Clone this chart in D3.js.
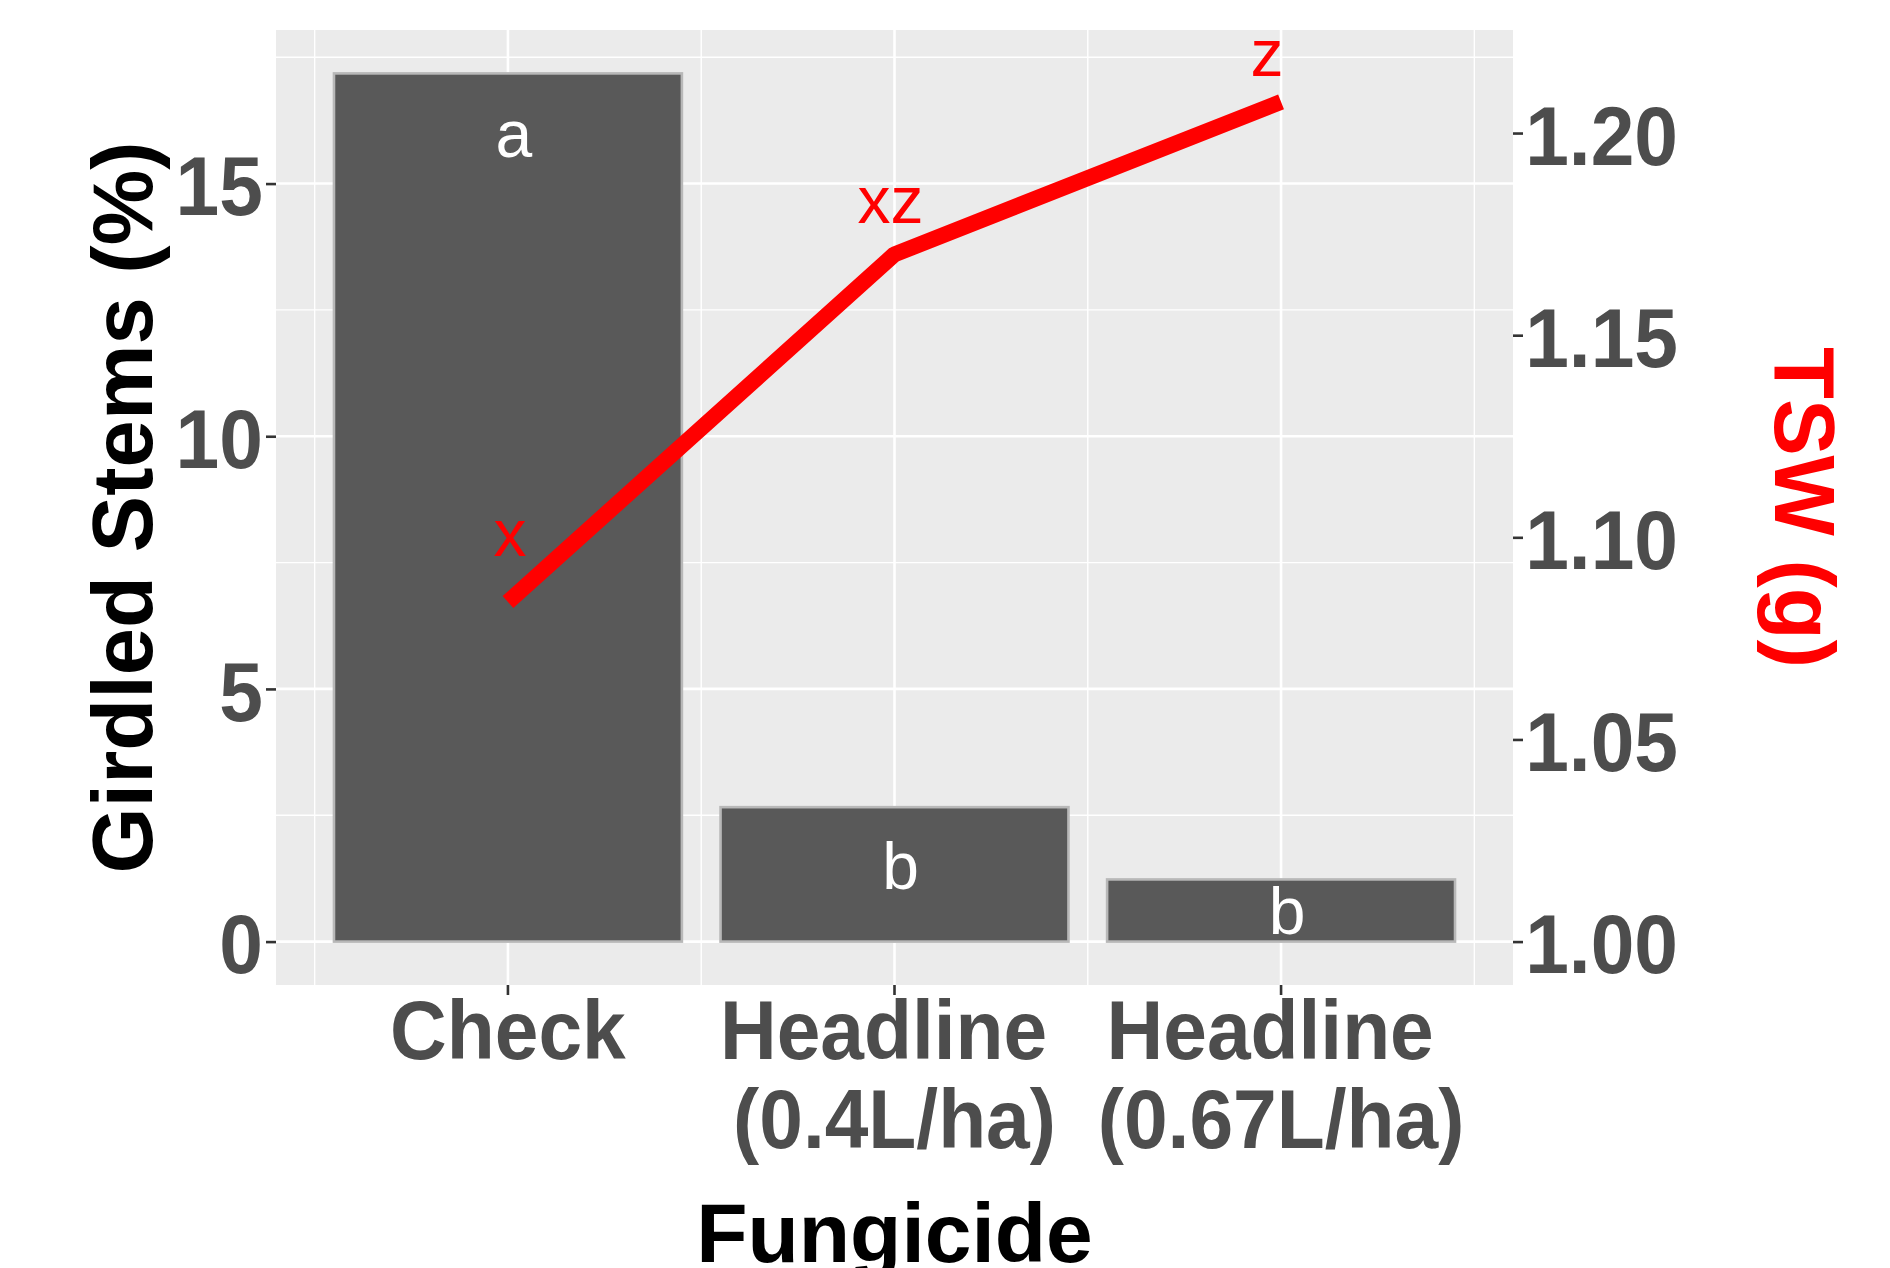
<!DOCTYPE html>
<html lang="en">
<head>
    <meta charset="UTF-8">
    <title>Girdled Stems and TSW by Fungicide</title>
    <script src="https://d3js.org/d3.v7.min.js"></script>
    <style>
        body {
            margin: 0;
            background: #ffffff;
            font-family: 'Liberation Sans', Arial, sans-serif;
        }
        svg text {
            font-family: 'Liberation Sans', Arial, sans-serif;
        }
    </style>
</head>
<body>
    <div id="chart"></div>

    <script>
        // data
        const categories = [["Check"], ["Headline\u00A0", "(0.4L/ha)"], ["Headline\u00A0", "(0.67L/ha)"]];
        const girdled = [17.18, 2.66, 1.23];          // Girdled Stems (%)
        const tsw = [1.084, 1.170, 1.2077];           // TSW (g)
        const barLetters = ["a", "b", "b"];
        const barLetterY = [15.53, 1.05, 0.15];       // in % units
        const tswLetters = ["x", "xz", "z"];
        const tswLetterY = [1.0955, 1.1777, 1.2140];  // in g units
        const leftTicks = [0, 5, 10, 15];
        const rightTicks = [1.00, 1.05, 1.10, 1.15, 1.20];
        const tswFactor = 80; // sec axis: % = (TSW - 1) * 80

        const width = 1890, height = 1268;
        const panel = {left: 276, right: 1513, top: 30, bottom: 985};

        const svg = d3.select("#chart")
            .append("svg")
            .attr("width", width)
            .attr("height", height);

        const idx = d3.range(categories.length);

        const x = d3.scaleBand()
            .domain(idx)
            .range([panel.left, panel.right])
            .paddingInner(0.1)
            .paddingOuter(0.15);
        const xc = i => x(i) + x.bandwidth() / 2;
        const step = x.step();

        const maxVal = d3.max(girdled);
        const pad = maxVal * 0.05;
        const yL = d3.scaleLinear()
            .domain([-pad, maxVal + pad])
            .range([panel.bottom, panel.top]);
        const yR = d3.scaleLinear()
            .domain(yL.domain().map(v => 1 + v / tswFactor))
            .range(yL.range());

        // panel background
        svg.append("rect")
            .attr("x", panel.left).attr("y", panel.top)
            .attr("width", panel.right - panel.left)
            .attr("height", panel.bottom - panel.top)
            .attr("fill", "#ebebeb");

        const grid = svg.append("g");
        // minor horizontal
        const minorY = leftTicks.map(t => t + 2.5);
        grid.selectAll(".hmin").data(minorY).enter().append("line")
            .attr("x1", panel.left).attr("x2", panel.right)
            .attr("y1", d => yL(d)).attr("y2", d => yL(d))
            .attr("stroke", "#fff").attr("stroke-width", 1.4);
        // minor vertical (between categories)
        const minorX = d3.range(categories.length + 1).map(i => xc(0) + (i - 0.5) * step);
        grid.selectAll(".vmin").data(minorX).enter().append("line")
            .attr("y1", panel.top).attr("y2", panel.bottom)
            .attr("x1", d => d).attr("x2", d => d)
            .attr("stroke", "#fff").attr("stroke-width", 1.4);
        // major
        grid.selectAll(".hmaj").data(leftTicks).enter().append("line")
            .attr("x1", panel.left).attr("x2", panel.right)
            .attr("y1", d => yL(d)).attr("y2", d => yL(d))
            .attr("stroke", "#fff").attr("stroke-width", 2.6);
        grid.selectAll(".vmaj").data(idx).enter().append("line")
            .attr("y1", panel.top).attr("y2", panel.bottom)
            .attr("x1", d => xc(d)).attr("x2", d => xc(d))
            .attr("stroke", "#fff").attr("stroke-width", 2.6);

        // bars
        svg.selectAll(".bar").data(girdled).enter().append("rect")
            .attr("x", (d, i) => x(i))
            .attr("width", x.bandwidth())
            .attr("y", d => yL(d))
            .attr("height", d => yL(0) - yL(d))
            .attr("fill", "#595959")
            .attr("stroke", "#b8b8b8")
            .attr("stroke-width", 2.6);

        // TSW line
        const line = d3.line()
            .x((d, i) => xc(i))
            .y(d => yR(d));
        svg.append("path")
            .datum(tsw)
            .attr("d", line)
            .attr("fill", "none")
            .attr("stroke", "#ff0000")
            .attr("stroke-width", 16)
            .attr("stroke-linejoin", "round")
            .attr("stroke-linecap", "butt");

        // letters
        svg.selectAll(".barLetter").data(barLetters).enter().append("text")
            .attr("x", (d, i) => xc(i) + 6)
            .attr("y", (d, i) => yL(barLetterY[i]))
            .attr("text-anchor", "middle")
            .attr("font-size", 66)
            .attr("fill", "#ffffff")
            .text(d => d);

        svg.selectAll(".tswLetter").data(tswLetters).enter().append("text")
            .attr("x", (d, i) => xc(i) + [2, -4, -14][i])
            .attr("y", (d, i) => yR(tswLetterY[i]))
            .attr("text-anchor", "middle")
            .attr("font-size", 66)
            .attr("fill", "#ff0000")
            .text(d => d);

        // axes
        function styleAxis(g) {
            g.select(".domain").remove();
            g.selectAll(".tick line").attr("stroke", "#333333").attr("stroke-width", 2.6);
            g.selectAll(".tick text")
                .attr("font-size", 84)
                .attr("font-weight", "bold")
                .attr("fill", "#4d4d4d");
        }

        const leftAxis = svg.append("g")
            .attr("transform", `translate(${panel.left},0)`)
            .call(d3.axisLeft(yL).tickValues(leftTicks).tickSize(10).tickPadding(4))
            .call(styleAxis);
        leftAxis.selectAll(".tick text")
            .attr("dy", "0.37em")
            .attr("transform", "scale(0.935,1)");

        const rightAxis = svg.append("g")
            .attr("transform", `translate(${panel.right},0)`)
            .call(d3.axisRight(yR).tickValues(rightTicks).tickSize(10).tickPadding(3)
                .tickFormat(d3.format(".2f")))
            .call(styleAxis);
        rightAxis.selectAll(".tick text")
            .attr("dy", "0.37em")
            .attr("transform", "scale(0.935,1)");

        const bottomAxis = svg.append("g")
            .attr("transform", `translate(0,${panel.bottom})`)
            .call(d3.axisBottom(x).tickSize(10).tickFormat(""))
            .call(styleAxis);
        bottomAxis.selectAll(".tick text").remove();
        bottomAxis.selectAll(".tick").each(function (d) {
            const t = d3.select(this).append("text")
                .attr("text-anchor", "middle")
                .attr("font-size", 84)
                .attr("font-weight", "bold")
                .attr("fill", "#4d4d4d")
                .attr("transform", "scale(0.935,1)");
            categories[d].forEach((ln, k) => {
                t.append("tspan")
                    .attr("x", 0)
                    .attr("y", 74 + k * 89)
                    .text(ln);
            });
        });

        // titles
        svg.append("text")
            .attr("x", (panel.left + panel.right) / 2)
            .attr("y", 1262)
            .attr("text-anchor", "middle")
            .attr("font-size", 84)
            .attr("font-weight", "bold")
            .attr("fill", "#000")
            .text("Fungicide");

        svg.append("text")
            .attr("transform", `translate(152,${(panel.top + panel.bottom) / 2}) rotate(-90)`)
            .attr("text-anchor", "middle")
            .attr("font-size", 85)
            .attr("font-weight", "bold")
            .attr("fill", "#000")
            .text("Girdled Stems (%)");

        svg.append("text")
            .attr("transform", `translate(1775,${(panel.top + panel.bottom) / 2}) rotate(90)`)
            .attr("text-anchor", "middle")
            .attr("font-size", 85)
            .attr("font-weight", "bold")
            .attr("fill", "#ff0000")
            .text("TSW (g)");
    </script>
</body>
</html>
